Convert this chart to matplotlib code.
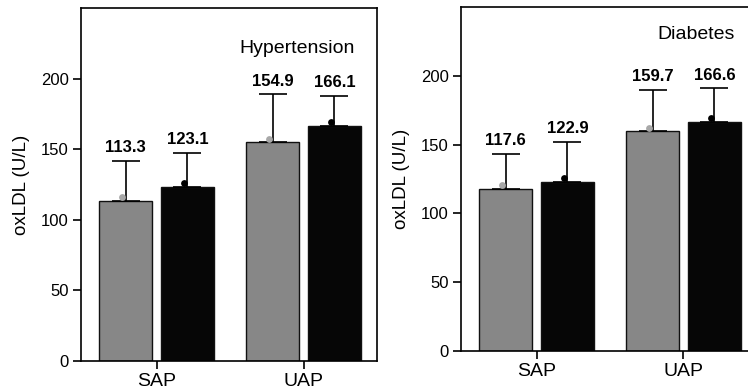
import matplotlib
matplotlib.use("Agg")
import matplotlib.pyplot as plt
import numpy as np

plt.rcParams['font.family'] = ['Liberation Sans', 'DejaVu Sans']

# Data
groups = ["SAP", "UAP"]
panel_titles = ["Hypertension", "Diabetes"]

# left panel (Hypertension)
ht_gray = [113.3, 154.9]
ht_black = [123.1, 166.1]
ht_gray_sd = [28.5, 34.1]
ht_black_sd = [24.4, 21.9]
ht_gray_dot = [116, 157]
ht_black_dot = [126, 169]

# right panel (Diabetes)
db_gray = [117.6, 159.7]
db_black = [122.9, 166.6]
db_gray_sd = [25.9, 30.3]
db_black_sd = [29.1, 24.4]
db_gray_dot = [121, 162]
db_black_dot = [125.5, 169.5]

yticks = [0, 50, 100, 150, 200]

GRAY = '#878787'
BLACK = '#060606'
W = 0.36
OFF = 0.21


def draw_panel(ax, title, title_xy, gray, black, gsd, bsd, gdot, bdot, xlim, show_right):
    x = np.arange(len(groups))
    for pos, vals, sd, dots, col, dcol in [
        (x - OFF, gray, gsd, gdot, GRAY, '#a8a8a8'),
        (x + OFF, black, bsd, bdot, BLACK, 'black'),
    ]:
        ax.bar(pos, vals, W, color=col, edgecolor='#111111', linewidth=1.0, zorder=2)
        ax.errorbar(pos, vals, yerr=[np.zeros(len(sd)), sd], fmt='none',
                    ecolor='black', elinewidth=1.2, capsize=10, capthick=1.2, zorder=3)
        ax.scatter(pos - 0.025, dots, s=24, color=dcol, zorder=4, linewidths=0)
        for px, v, s in zip(pos, vals, sd):
            ax.annotate(f"{v:.1f}", (px, v + s), xytext=(0, 4), textcoords='offset points',
                        ha='center', va='bottom', fontsize=12, fontweight='bold')
    ax.set_xlim(*xlim)
    ax.set_ylim(0, 250)
    ax.set_yticks(yticks)
    ax.set_xticks(x)
    ax.set_xticklabels(groups, fontsize=14)
    ax.tick_params(axis='y', labelsize=12, length=6, width=1.2, pad=3)
    ax.tick_params(axis='x', length=6, width=1.2, pad=3)
    ax.set_ylabel("oxLDL (U/L)", fontsize=13.5, labelpad=8)
    for sp in ax.spines.values():
        sp.set_linewidth(1.2)
    ax.spines['right'].set_visible(show_right)
    ax.text(title_xy[0], title_xy[1], title, transform=ax.transAxes,
            ha='center', va='center', fontsize=14)


fig = plt.figure(figsize=(7.48, 3.92), dpi=100)
ax1 = fig.add_axes([81/748, 31/392, 296/748, 353/392])
ax2 = fig.add_axes([461/748, 41/392, 287/748, 344/392])

draw_panel(ax1, panel_titles[0], (0.73, 0.884), ht_gray, ht_black, ht_gray_sd, ht_black_sd,
           ht_gray_dot, ht_black_dot, (-0.514, 1.5), True)
draw_panel(ax2, panel_titles[1], (0.819, 0.919), db_gray, db_black, db_gray_sd, db_black_sd,
           db_gray_dot, db_black_dot, (-0.514, 1.439), False)

fig.savefig("out.png", dpi=100)
